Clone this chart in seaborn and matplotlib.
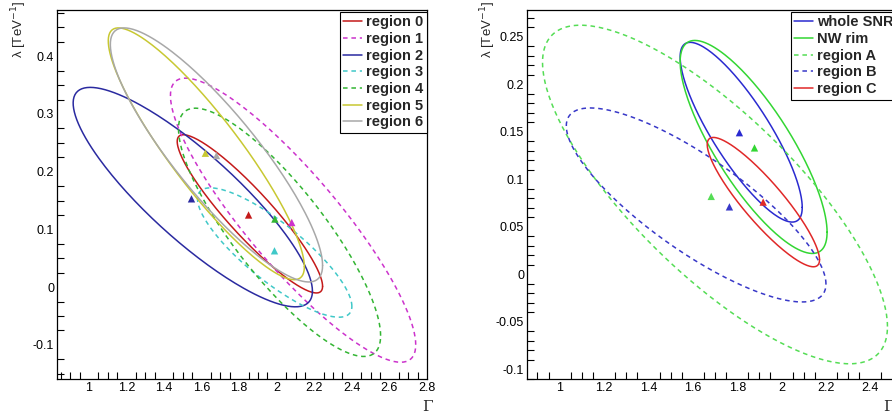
import numpy as np
import pandas as pd
import matplotlib
matplotlib.use("Agg")
import matplotlib.pyplot as plt
from matplotlib.ticker import MultipleLocator
from matplotlib.lines import Line2D
import seaborn as sns

# left panel: contour ellipses (centre, half-extent in Gamma / lambda, correlation)
left_names = ["region 0", "region 1", "region 2", "region 3", "region 4", "region 5", "region 6"]
left_cx = [1.857, 2.087, 1.553, 1.989, 2.015, 1.625, 1.679]
left_cy = [0.127, 0.116, 0.156, 0.060, 0.095, 0.231, 0.229]
left_ax = [0.387, 0.653, 0.637, 0.411, 0.538, 0.522, 0.565]
left_ay = [0.137, 0.246, 0.190, 0.112, 0.215, 0.218, 0.220]
left_rho = [-0.915, -0.877, -0.857, -0.832, -0.833, -0.897, -0.87]
left_best_g = [1.85, 2.08, 1.546, 1.988, 1.99, 1.62, 1.679]
left_best_l = [0.125, 0.112, 0.153, 0.063, 0.118, 0.232, 0.228]
left_colors = ["#c41a1a", "#cc33cc", "#2a2aa0", "#40c8c8", "#33b533", "#c8c832", "#a8a8a8"]
left_dashed = [False, True, False, True, True, False, False]

# right panel
right_names = ["whole SNR", "NW rim", "region A", "region B", "region C"]
right_cx = [1.818, 1.874, 1.700, 1.615, 1.918]
right_cy = [0.1495, 0.134, 0.084, 0.073, 0.076]
right_ax = [0.275, 0.331, 0.777, 0.585, 0.253]
right_ay = [0.0945, 0.112, 0.178, 0.102, 0.068]
right_rho = [-0.836, -0.80, -0.78, -0.815, -0.89]
right_best_g = [1.81, 1.878, 1.683, 1.765, 1.917]
right_best_l = [0.149, 0.133, 0.082, 0.071, 0.076]
right_colors = ["#2a2ad0", "#33d633", "#55dd55", "#3838c8", "#e02828"]
right_dashed = [False, False, True, True, False]


def contour_frame(names, cx, cy, ax_, ay, rho):
    t = np.linspace(0, 2 * np.pi, 240)
    rows = []
    for n, x0, y0, a, b, r in zip(names, cx, cy, ax_, ay, rho):
        gx = x0 + a * np.cos(t)
        gy = y0 + b * (r * np.cos(t) + np.sqrt(1 - r * r) * np.sin(t))
        rows.append(pd.DataFrame({"Gamma": gx, "lambda": gy, "region": n}))
    return pd.concat(rows, ignore_index=True)


sns.set_style("white")
plt.rcParams["font.family"] = ["Liberation Sans", "DejaVu Sans"]

fig = plt.figure(figsize=(8.92, 4.18), dpi=100)
ax1 = fig.add_axes([57 / 892, 39 / 418, 370 / 892, 369 / 418])
ax2 = fig.add_axes([527 / 892, 39 / 418, 370 / 892, 369 / 418])


def draw(ax, names, cx, cy, ax_, ay, rho, bg, bl, colors, dashed):
    df = contour_frame(names, cx, cy, ax_, ay, rho)
    pal = dict(zip(names, colors))
    dashes = {n: ((3, 2.5) if d else "") for n, d in zip(names, dashed)}
    sns.lineplot(data=df, x="Gamma", y="lambda", hue="region", style="region",
                 units="region", estimator=None, sort=False, palette=pal,
                 dashes=dashes, linewidth=1.1, legend=False, ax=ax)
    pts = pd.DataFrame({"Gamma": bg, "lambda": bl, "region": names})
    sns.scatterplot(data=pts, x="Gamma", y="lambda", hue="region", palette=pal,
                    marker="^", s=28, edgecolor="none", legend=False, ax=ax, zorder=5)
    handles = [Line2D([], [], color=c, lw=1.1, ls=(0, (3, 2.5)) if d else "-")
               for c, d in zip(colors, dashed)]
    leg = ax.legend(handles, names, loc="upper right", bbox_to_anchor=(1.0, 0.995),
                    frameon=True, fancybox=False, framealpha=1, edgecolor="black",
                    borderaxespad=0.0, handlelength=1.3, handletextpad=0.25,
                    labelspacing=0.18, borderpad=0.25,
                    prop={"weight": "bold", "size": 10.5})
    leg.get_frame().set_linewidth(0.8)
    ax.set_xlabel("")
    ax.set_ylabel("")
    for s in ax.spines.values():
        s.set_color("black")
        s.set_linewidth(0.9)
    ax.tick_params(which="both", direction="in", top=False, right=False,
                   labelsize=9, colors="black", width=0.8, pad=2)
    ax.tick_params(which="major", length=9)
    ax.tick_params(which="minor", length=5, bottom=True, left=True)
    ax.xaxis.set_major_locator(MultipleLocator(0.2))
    ax.xaxis.set_minor_locator(MultipleLocator(0.05))
    ax.xaxis.set_major_formatter(lambda v, p: f"{v:g}")
    ax.yaxis.set_major_formatter(lambda v, p: f"{v:g}")


draw(ax1, left_names, left_cx, left_cy, left_ax, left_ay, left_rho,
     left_best_g, left_best_l, left_colors, left_dashed)
ax1.set_xlim(0.83, 2.8)
ax1.set_ylim(-0.159, 0.48)
ax1.yaxis.set_major_locator(MultipleLocator(0.1))
ax1.yaxis.set_minor_locator(MultipleLocator(0.025))

draw(ax2, right_names, right_cx, right_cy, right_ax, right_ay, right_rho,
     right_best_g, right_best_l, right_colors, right_dashed)
ax2.set_xlim(0.853, 2.52)
ax2.set_ylim(-0.11, 0.278)
ax2.yaxis.set_major_locator(MultipleLocator(0.05))
ax2.yaxis.set_minor_locator(MultipleLocator(0.01))

for xl, xg in [(9, 427), (478, 888)]:
    fig.text(xl / 892, 1 - 1 / 418, "λ [TeV$^{-1}$]", rotation=90, ha="left", va="top", fontsize=9.5)
    fig.text(xg / 892, 1 - 407 / 418, "Γ", family="DejaVu Serif", ha="center", va="center", fontsize=11)

fig.savefig("out.png", dpi=100)
